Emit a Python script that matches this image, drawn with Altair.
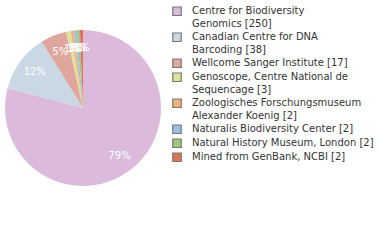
import altair as alt
import pandas as pd

names = [
    "Centre for Biodiversity|Genomics [250]",
    "Canadian Centre for DNA|Barcoding [38]",
    "Wellcome Sanger Institute [17]",
    "Genoscope, Centre National de|Sequencage [3]",
    "Zoologisches Forschungsmuseum|Alexander Koenig [2]",
    "Naturalis Biodiversity Center [2]",
    "Natural History Museum, London [2]",
    "Mined from GenBank, NCBI [2]",
]
counts = [250, 38, 17, 3, 2, 2, 2, 2]
colors = ["#dcbadc", "#c9d8e4", "#dea69c", "#dde39a", "#f2b27b", "#9dbfe2", "#a3c87c", "#e1735a"]

total = sum(counts)
df = pd.DataFrame({
    "name": names,
    "count": counts,
    "idx": list(range(len(names))),
    "pct": [f"{round(c * 100 / total)}%" for c in counts],
})

base = alt.Chart(df).encode(
    theta=alt.Theta("count:Q", stack=True),
    order=alt.Order("idx:Q"),
    x=alt.value(83),
    y=alt.value(108),
)

pie = base.mark_arc(radius=78).encode(
    color=alt.Color(
        "name:N",
        scale=alt.Scale(domain=names, range=colors),
        sort=names,
        legend=alt.Legend(
            title=None,
            orient="none",
            legendX=172,
            legendY=5,
            symbolType="square",
            symbolSize=72,
            symbolStrokeColor="#777777",
            symbolStrokeWidth=1.2,
            labelFont="DejaVu Sans",
            labelFontSize=10,
            labelColor="#333333",
            labelLimit=250,
            rowPadding=1,
            clipHeight=12.5,
            labelOffset=10,
            labelExpr="split(datum.label, '|')",
        ),
    ),
)

labels = base.mark_text(radius=60, font="DejaVu Sans", fontSize=10, color="white").encode(
    text="pct:N"
)

chart = (pie + labels).properties(
    width=380, height=240, padding={"left": 0, "top": 0, "right": 0, "bottom": 0},
    autosize=alt.AutoSizeParams(type="none"),
).configure(
    style={"guide-label": {"lineHeight": 13}},
    view={"stroke": None},
)

chart.save("out.html", embed_options={"renderer": "svg", "actions": False})
